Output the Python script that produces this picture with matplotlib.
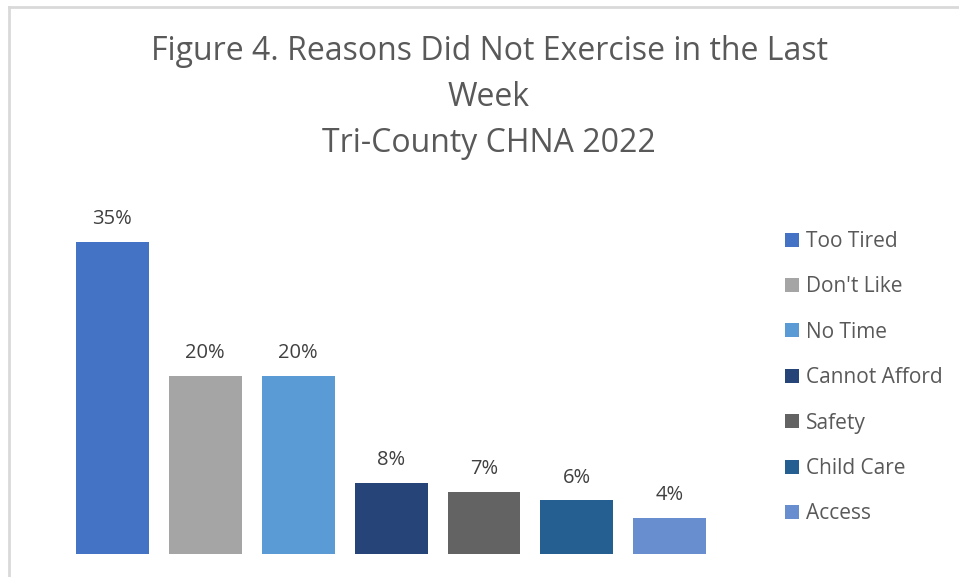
import matplotlib
matplotlib.use('Agg')
import matplotlib.pyplot as plt
from matplotlib.patches import Patch
from matplotlib.lines import Line2D

# Adatok
reasons = ['Too Tired', "Don't Like", 'No Time', 'Cannot Afford', 'Safety', 'Child Care', 'Access']
percents = [35, 20, 20, 8, 7, 6, 4]
colors = ['#4472C4', '#A5A5A5', '#5B9BD5', '#264478', '#636363', '#255E91', '#698ED0']

plt.rcParams['font.family'] = ['Open Sans', 'DejaVu Sans']
text_color = '#595959'

fig = plt.figure(figsize=(9.59, 5.77), dpi=100)
ax = fig.add_axes([0.0688, 0.0399, 0.678, 0.618])

x = range(len(reasons))
bars = ax.bar(x, percents, width=0.785, color=colors)
for xi, p in zip(x, percents):
    ax.text(xi, p + 1.45, f'{p}%', ha='center', va='bottom', fontsize=14.5, color='#404040')

ax.set_xlim(-0.5, len(reasons) - 0.5)
ax.set_ylim(0, 40)
ax.axis('off')

# Cím
fig.text(0.51, 1 - 52 / 577, 'Figure 4. Reasons Did Not Exercise in the Last',
         ha='center', va='center', fontsize=23, color=text_color)
fig.text(0.51, 1 - 97 / 577, 'Week', ha='center', va='center', fontsize=23, color=text_color)
fig.text(0.51, 1 - 143 / 577, 'Tri-County CHNA 2022', ha='center', va='center', fontsize=23, color=text_color)

# Jelmagyarázat
handles = [Patch(facecolor=c, edgecolor='none') for c in colors]
leg = fig.legend(handles, reasons, loc='upper left', bbox_to_anchor=(785 / 959, 1 - 231 / 577),
                 frameon=False, fontsize=15, labelcolor=text_color,
                 handlelength=0.65, handleheight=0.65, handletextpad=0.35,
                 labelspacing=1.17, borderaxespad=0, borderpad=0)

# Keret (felső és bal szél)
fig.add_artist(Line2D([9 / 959, 1], [1 - 7 / 577, 1 - 7 / 577], color='#D9D9D9', lw=2))
fig.add_artist(Line2D([9 / 959, 9 / 959], [0, 1 - 7 / 577], color='#D9D9D9', lw=2))

fig.savefig('out.png', dpi=100)
